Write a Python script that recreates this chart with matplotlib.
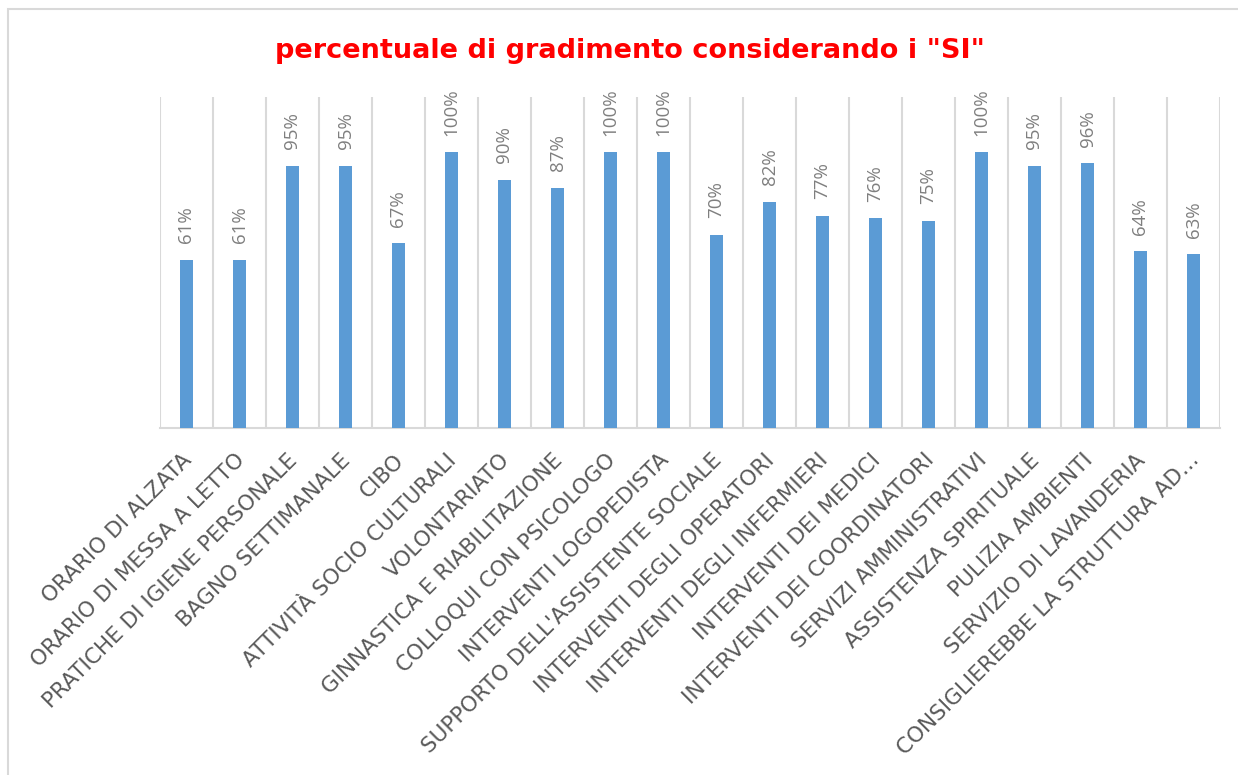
import matplotlib
matplotlib.use("Agg")
import matplotlib.pyplot as plt
from matplotlib.patches import Rectangle
from matplotlib.transforms import ScaledTranslation

categories = [
    "ORARIO DI ALZATA", "ORARIO DI MESSA A LETTO", "PRATICHE DI IGIENE PERSONALE",
    "BAGNO SETTIMANALE", "CIBO", "ATTIVITÀ SOCIO CULTURALI", "VOLONTARIATO",
    "GINNASTICA E RIABILITAZIONE", "COLLOQUI CON PSICOLOGO", "INTERVENTI LOGOPEDISTA",
    "SUPPORTO DELL'ASSISTENTE SOCIALE", "INTERVENTI DEGLI OPERATORI",
    "INTERVENTI DEGLI INFERMIERI", "INTERVENTI DEI MEDICI", "INTERVENTI DEI COORDINATORI",
    "SERVIZI AMMINISTRATIVI", "ASSISTENZA SPIRITUALE", "PULIZIA AMBIENTI",
    "SERVIZIO DI LAVANDERIA", "CONSIGLIEREBBE LA STRUTTURA AD…",
]
values = [61, 61, 95, 95, 67, 100, 90, 87, 100, 100, 70, 82, 77, 76, 75, 100, 95, 96, 64, 63]
title = 'percentuale di gradimento considerando i "SI"'

fig = plt.figure(figsize=(12.38, 7.75), dpi=100)
W, H = 1238, 775
fig.patches.append(Rectangle((8 / W, -0.1), 1.1, 1 - 9 / H + 0.1, transform=fig.transFigure,
                             fill=False, edgecolor="#d9d9d9", linewidth=1.5))

ax = fig.add_axes([160 / W, 1 - 428 / H, (1220 - 160) / W, (428 - 97) / H])
n = len(categories)
x = list(range(n))
ax.bar(x, values, width=0.23, color="#5b9bd5", zorder=3)
ax.set_xlim(-0.5, n - 0.5)
ax.set_ylim(0, 120)
for b in range(n + 1):
    ax.axvline(b - 0.5, color="#d9d9d9", linewidth=1.5, zorder=1)
for s in ["top", "right", "left"]:
    ax.spines[s].set_visible(False)
ax.spines["bottom"].set_color("#d9d9d9")
ax.spines["bottom"].set_linewidth(1.5)
ax.set_yticks([])
ax.tick_params(axis="x", length=0, pad=0)
ax.set_xticks(x)
ax.set_xticklabels(categories, rotation=45, ha="right", va="center", rotation_mode="anchor",
                   fontsize=15.5, color="#595959", family="DejaVu Sans")
shift = ScaledTranslation(2 / 100, -29 / 100, fig.dpi_scale_trans)
for lbl in ax.get_xticklabels():
    lbl.set_transform(lbl.get_transform() + shift)

for xi, v in zip(x, values):
    ax.annotate(f"{v}%", (xi, v), xytext=(0, 12), textcoords="offset points",
                rotation=90, ha="center", va="bottom",
                fontsize=13.5, color="#7f7f7f", family="Open Sans")

fig.text(630 / W, 1 - 51 / H, title, ha="center", va="center", color="#ff0000",
         fontsize=19.5, fontweight="bold", family="DejaVu Sans")

fig.savefig("out.png", dpi=100)
